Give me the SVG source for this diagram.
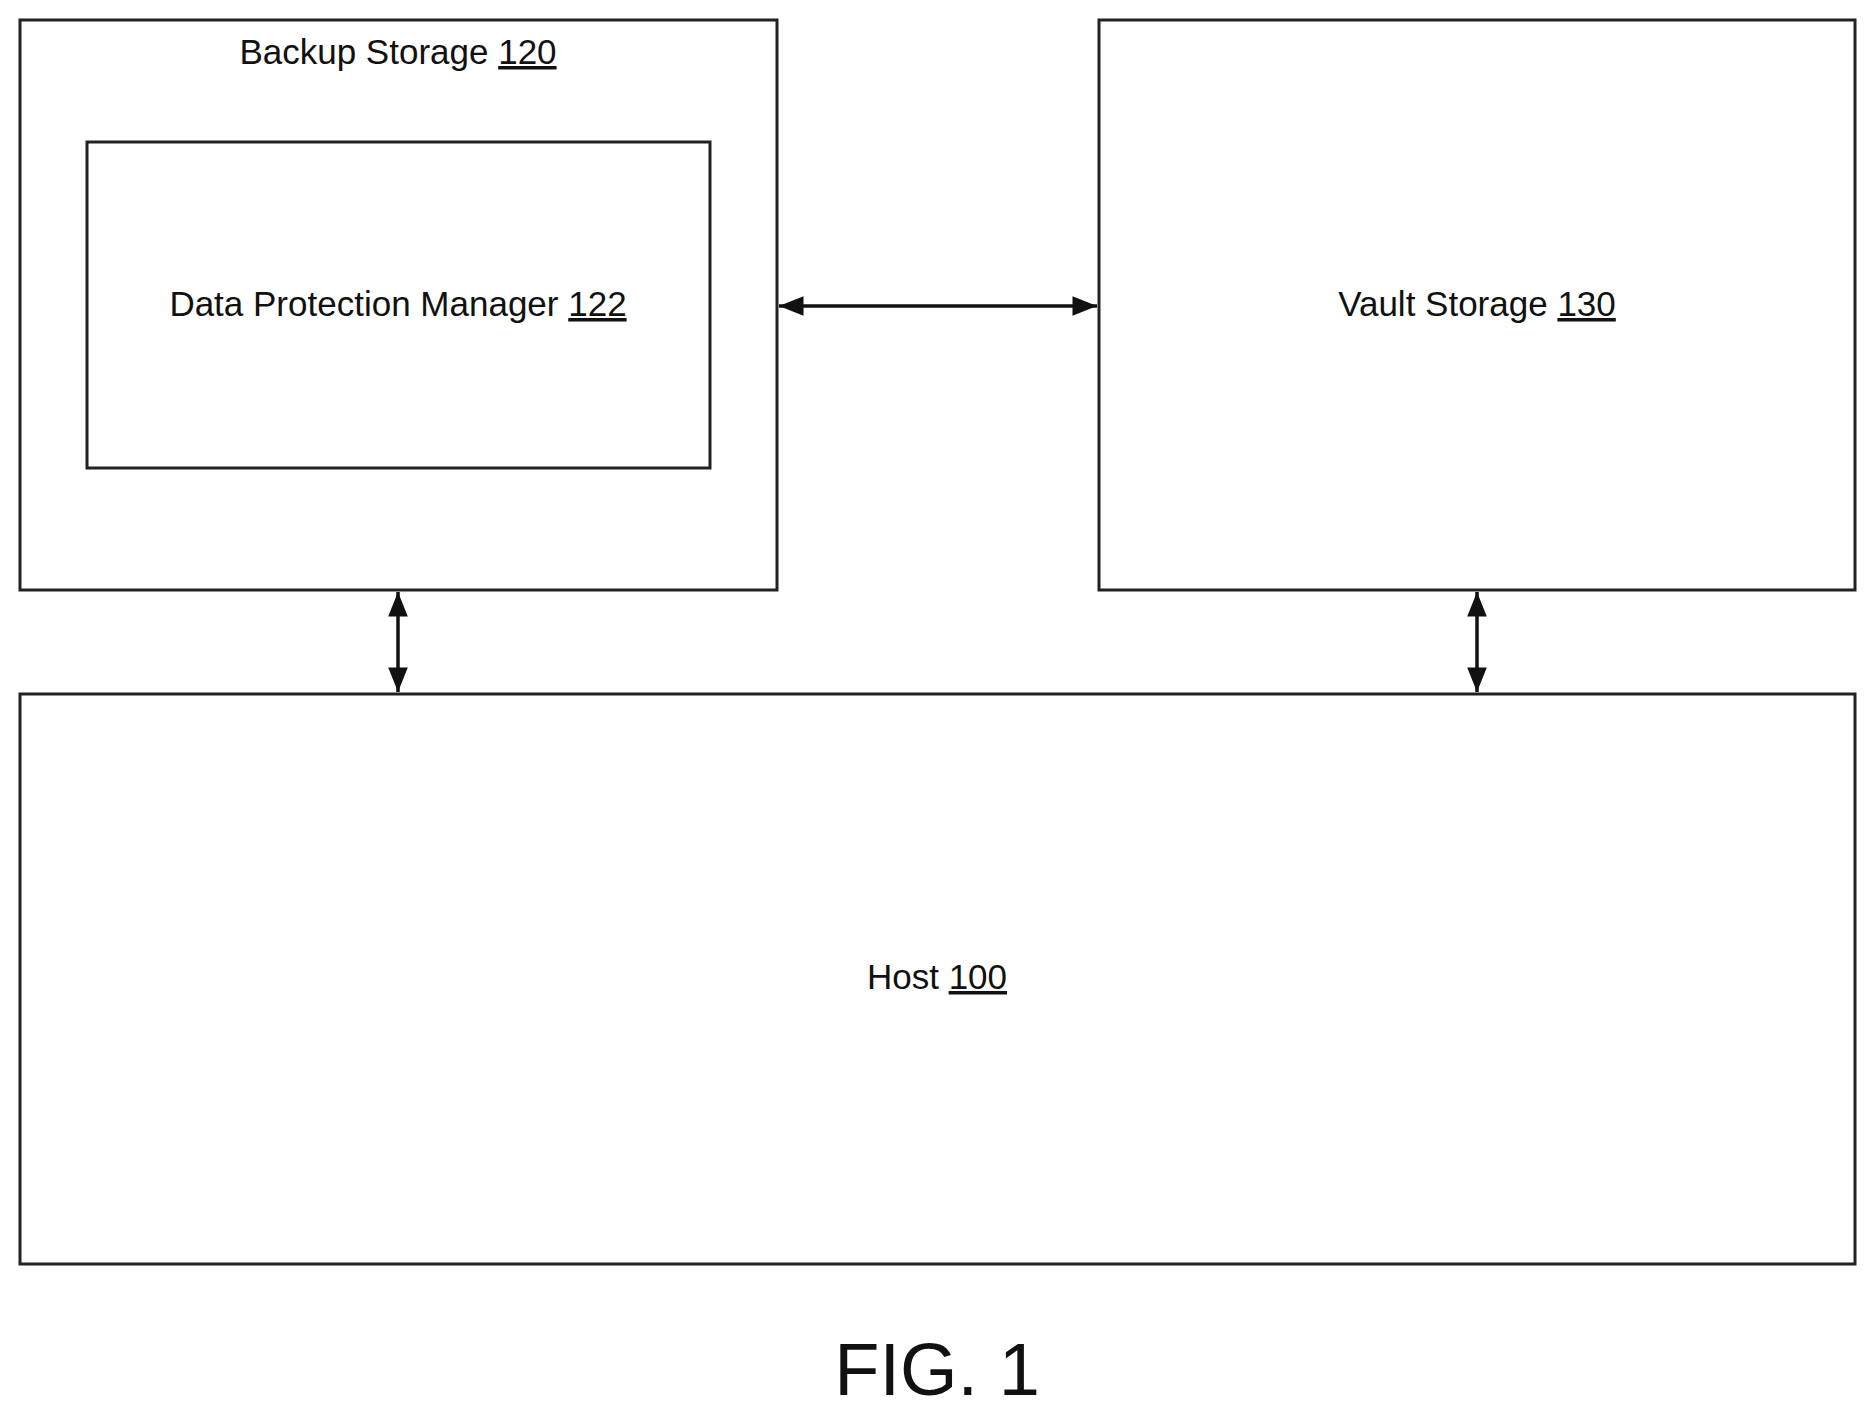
<svg xmlns="http://www.w3.org/2000/svg" width="1875" height="1416" viewBox="0 0 1875 1416">
<style>
.box{fill:#fff;stroke:#222;stroke-width:3}
.t{font-family:"Liberation Sans",Arial,sans-serif;font-size:35px;fill:#111;text-anchor:middle}
.c{stroke:#111;stroke-width:3.5;fill:none;marker-start:url(#a);marker-end:url(#a)}
</style>
<defs>
<marker id="a" viewBox="0 0 10 10" refX="10" refY="5" markerWidth="9" markerHeight="7" orient="auto-start-reverse" markerUnits="strokeWidth"><path d="M0,1 L10,5 L0,9 z" fill="#111"/></marker>
</defs>
<rect width="1875" height="1416" fill="#fff"/>
<g id="backup"><rect class="box" x="20" y="20" width="757" height="570"/><text class="t" x="398" y="64">Backup Storage <tspan text-decoration="underline">120</tspan></text></g>
<g id="dpm"><rect class="box" x="87" y="142" width="623" height="326"/><text class="t" x="398" y="316">Data Protection Manager <tspan text-decoration="underline">122</tspan></text></g>
<g id="vault"><rect class="box" x="1099" y="20" width="756" height="570"/><text class="t" x="1477" y="316">Vault Storage <tspan text-decoration="underline">130</tspan></text></g>
<g id="host"><rect class="box" x="20" y="694" width="1835" height="570"/><text class="t" x="937" y="989">Host <tspan text-decoration="underline">100</tspan></text></g>
<g id="connectors">
<line class="c" x1="779" y1="306" x2="1097" y2="306"/>
<line class="c" x1="398" y1="592" x2="398" y2="692"/>
<line class="c" x1="1477" y1="592" x2="1477" y2="692"/>
</g>
<text x="937" y="1395" style="font-family:'Liberation Sans',Arial,sans-serif;font-size:74px;fill:#111;text-anchor:middle">FIG. 1</text>
</svg>
